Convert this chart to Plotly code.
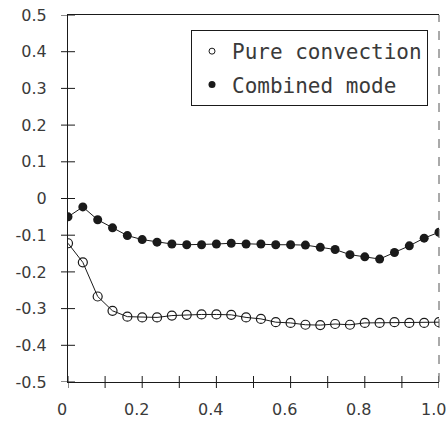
import plotly.graph_objects as go

x_vals = [round(i * 0.04, 2) for i in range(26)]
pure_convection = [-0.122, -0.174, -0.267, -0.306, -0.322, -0.324, -0.324, -0.319, -0.317, -0.316,
                   -0.316, -0.317, -0.324, -0.328, -0.337, -0.339, -0.344, -0.345, -0.342, -0.344,
                   -0.339, -0.339, -0.337, -0.339, -0.339, -0.337]
combined_mode = [-0.050, -0.023, -0.058, -0.080, -0.101, -0.112, -0.119, -0.124, -0.126, -0.126,
                 -0.124, -0.122, -0.124, -0.124, -0.126, -0.126, -0.127, -0.133, -0.139, -0.153,
                 -0.159, -0.165, -0.147, -0.129, -0.108, -0.092]
series_names = ["Pure convection", "Combined mode"]

x_tickvals = [0, 0.1, 0.2, 0.3, 0.4, 0.5, 0.6, 0.7, 0.8, 0.9, 1.0]
x_ticktext = ["0", "", "0.2", "", "0.4", "", "0.6", "", "0.8", "", "1.0"]
y_tickvals = [0.5, 0.4, 0.3, 0.2, 0.1, 0, -0.1, -0.2, -0.3, -0.4, -0.5]
y_ticktext = ["0.5", "0.4", "0.3", "0.2", "0.1", "0", "-0.1", "-0.2", "-0.3", "-0.4", "-0.5"]

INK = "#1a1a1a"
TXT = "#3a3a3a"
FONT = "DejaVu Sans"

W, H = 447, 428
ML, MR, MT, MB = 68, 8, 15, 46
PW, PH = W - ML - MR, H - MT - MB

fig = go.Figure()
# curves
fig.add_trace(go.Scatter(
    x=x_vals, y=pure_convection, mode="lines+markers", name=series_names[0], showlegend=False,
    line=dict(color=INK, width=1),
    marker=dict(symbol="circle-open", size=9, color=INK, line=dict(width=1.2, color=INK)),
))
fig.add_trace(go.Scatter(
    x=x_vals, y=combined_mode, mode="lines+markers", name=series_names[1], showlegend=False,
    line=dict(color=INK, width=1),
    marker=dict(symbol="circle", size=9, color=INK),
))
# legend entries (marker only, small)
fig.add_trace(go.Scatter(x=[None], y=[None], mode="markers", name=series_names[0],
                         legendgroup="a",
                         marker=dict(symbol="circle-open", size=6, color=INK,
                                     line=dict(width=1, color=INK))))
fig.add_trace(go.Scatter(x=[None], y=[None], mode="markers", name=series_names[1],
                         legendgroup="b",
                         marker=dict(symbol="circle", size=7, color=INK)))

# cross-style tick marks (both sides of the axis lines)
shapes = []
tx = 7 / PW
ty = 6 / PH
for v in y_tickvals:
    shapes.append(dict(type="line", xref="paper", yref="y", x0=-tx, x1=tx, y0=v, y1=v,
                       line=dict(color=INK, width=1)))
for v in x_tickvals:
    shapes.append(dict(type="line", xref="x", yref="paper", x0=v, x1=v, y0=-ty, y1=ty,
                       line=dict(color=INK, width=1)))
# right border, dashed
shapes.append(dict(type="line", xref="paper", yref="paper", x0=1, x1=1, y0=0, y1=1,
                   line=dict(color="#555", width=1, dash="dash")))

# x tick labels (slightly left of the ticks, as in the original)
annotations = []
for v, t in zip(x_tickvals, x_ticktext):
    if t:
        annotations.append(dict(x=v, y=0, xref="x", yref="paper", text=t, showarrow=False,
                                xanchor="center", yanchor="top", xshift=-6, yshift=-16,
                                font=dict(size=16, color=TXT, family=FONT)))

fig.update_layout(
    width=W, height=H,
    margin=dict(l=ML, r=MR, t=MT, b=MB, autoexpand=False),
    paper_bgcolor="white", plot_bgcolor="white",
    font=dict(family=FONT, color=INK, size=16),
    xaxis=dict(range=[0, 1.0], tickmode="array", tickvals=x_tickvals, showticklabels=False,
               showgrid=False, zeroline=False, showline=True, linecolor=INK, linewidth=1.2,
               mirror=True, ticks="", automargin=False),
    yaxis=dict(range=[-0.5, 0.5], tickmode="array", tickvals=y_tickvals, ticktext=y_ticktext,
               showgrid=False, zeroline=False, showline=True, linecolor=INK, linewidth=1.2,
               ticks="", ticklabelstandoff=17, ticklabeloverflow="allow",
               automargin=False, tickfont=dict(size=16, color=TXT)),
    legend=dict(x=(428 - ML) / PW, y=1 - (30 - MT) / PH, xanchor="right", yanchor="top",
                bgcolor="white", bordercolor=INK, borderwidth=1,
                font=dict(family="DejaVu Sans Mono", size=21, color=TXT),
                tracegroupgap=3, traceorder="grouped", itemwidth=30),
    shapes=shapes,
    annotations=annotations,
    showlegend=True,
)

fig.write_html("out.html")
